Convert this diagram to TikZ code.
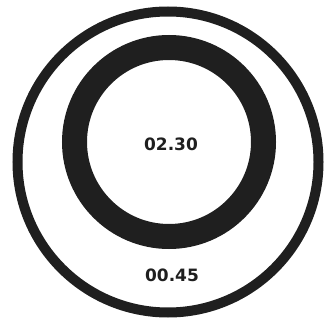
\documentclass[tikz,border=0pt]{standalone}
\usepackage{fontspec}
\setmainfont{DejaVu Sans}
\definecolor{ink}{gray}{0.12}
\tikzset{
  ring/.style={draw=ink, circle, inner sep=0pt},
  lbl/.style={text=ink, font=\fontsize{17}{17}\selectfont\bfseries, inner sep=0pt}
}
\begin{document}
\begin{tikzpicture}[x=1pt,y=1pt]
\useasboundingbox (0,0) rectangle (324,322);
\node[ring, line width=10pt, minimum size=301pt] (outer) at (168,160) {};
\node[ring, line width=25pt, minimum size=189pt] (inner) at (169,180) {};
\node[lbl] (t1) at (171,178) {02.30};
\node[lbl] (t2) at (172,47) {00.45};
\end{tikzpicture}
\end{document}
